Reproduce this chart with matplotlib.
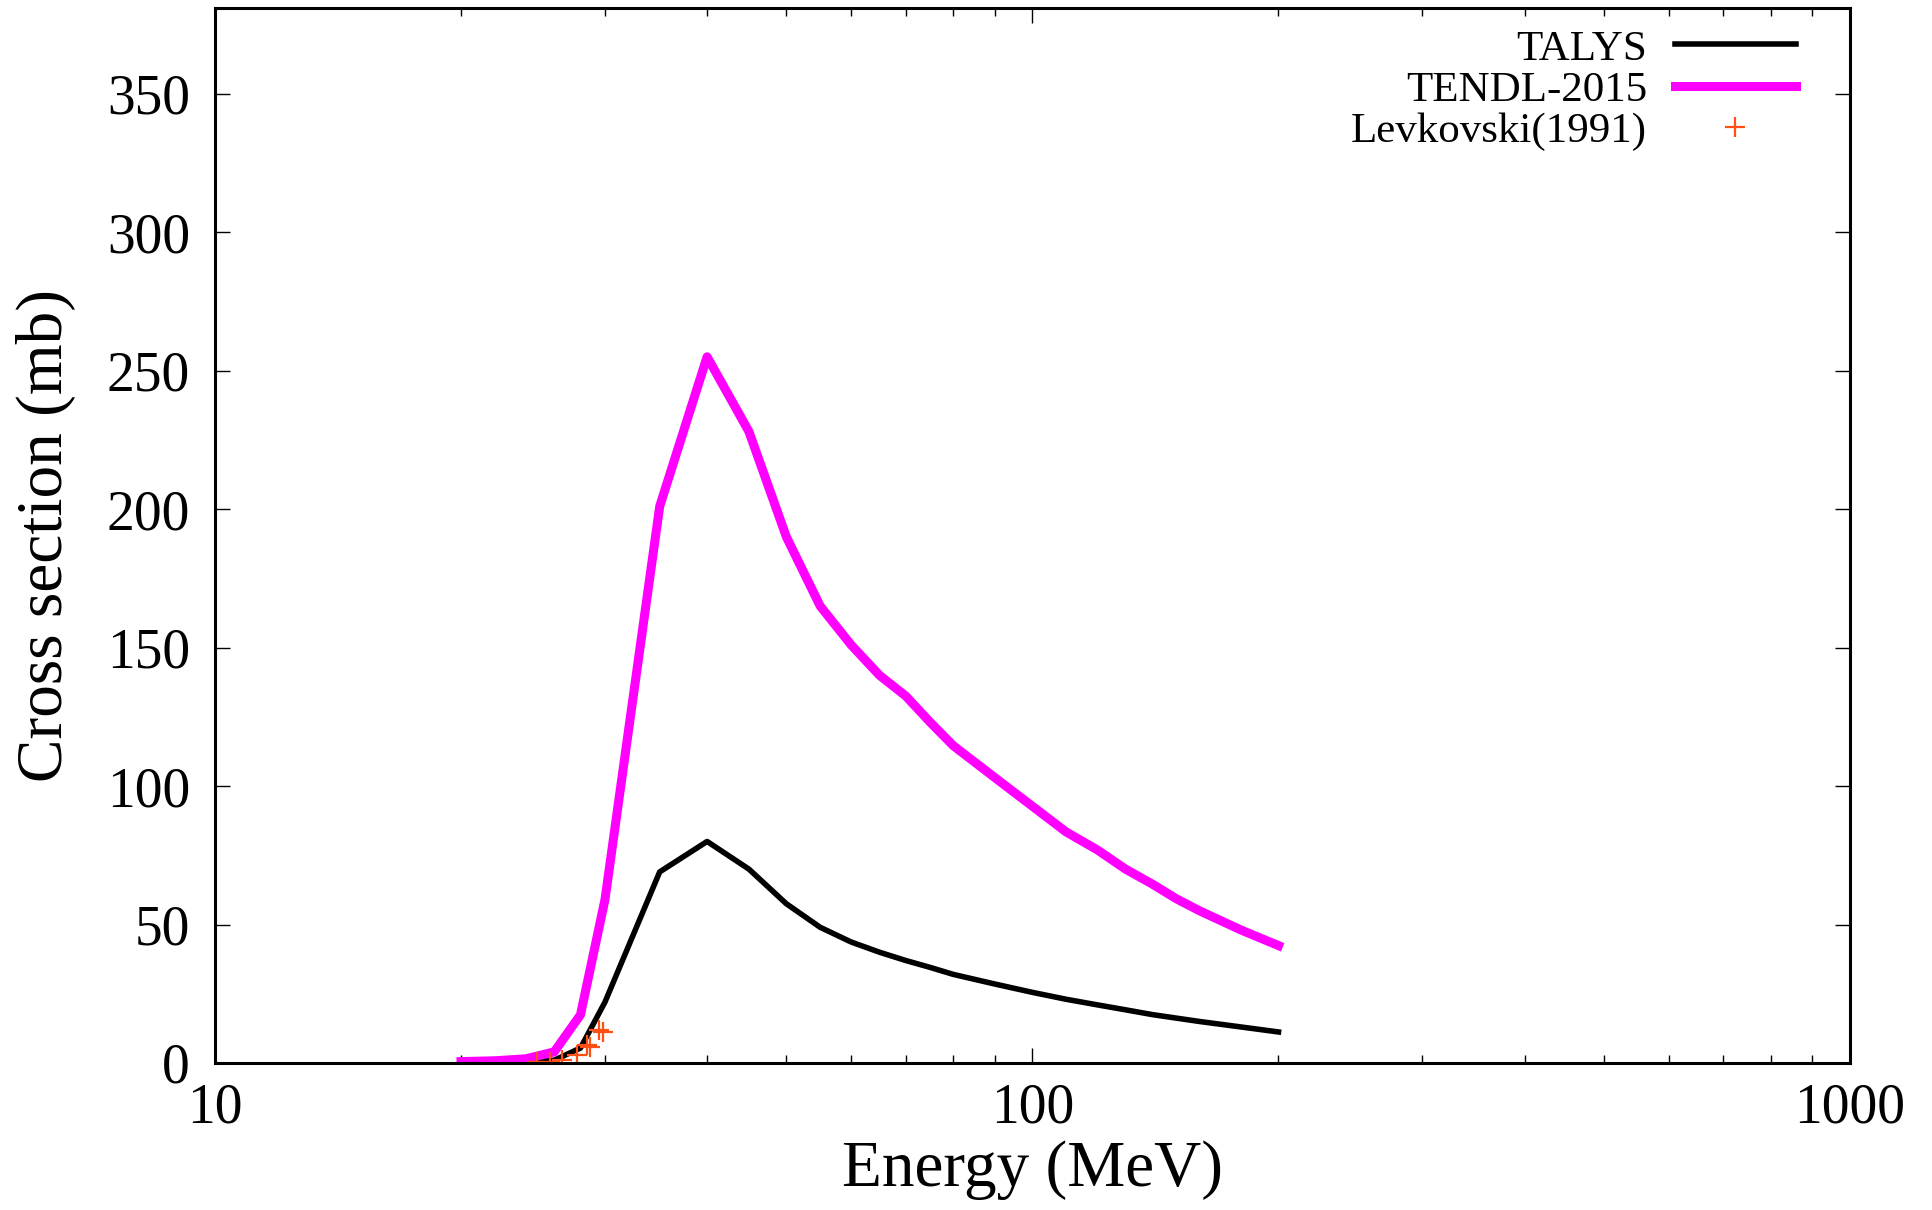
import matplotlib
matplotlib.use("Agg")
import matplotlib.pyplot as plt
from matplotlib.ticker import FixedLocator, FixedFormatter, LogLocator, NullFormatter

plt.rcParams["font.family"] = ["Liberation Serif", "DejaVu Serif"]

# --- data ---
talys_e = [20, 22, 24, 26, 28, 30, 35, 40, 45, 50, 55, 60, 65, 70, 75, 80,
           90, 100, 110, 120, 130, 140, 150, 160, 180, 200]
talys_xs = [0.0, 0.0, 0.2, 1.0, 5.4, 22, 69, 80, 70, 57.5, 49, 43.7, 40,
            37, 34.5, 32, 28.5, 25.5, 23, 21, 19.2, 17.5, 16.2, 15, 13, 11.2]

tendl_e = [20, 22, 24, 26, 28, 30, 35, 40, 45, 50, 55, 60, 65, 70, 75, 80,
           90, 100, 110, 120, 130, 140, 150, 160, 180, 200]
tendl_xs = [0.5, 0.8, 1.5, 4.0, 17.4, 59, 201, 255, 228, 190, 165, 151,
            140, 132.5, 123, 114.6, 103, 92.7, 83.4, 77, 70, 64.7, 59.3,
            55, 48, 42.4]

exp_e = [24.8, 25.7, 26.6, 27.7, 28.5, 28.8, 29.5, 29.8]
exp_xs = [0.2, 0.4, 1.2, 3.0, 6.5, 5.8, 12.0, 11.2]

fig = plt.figure(figsize=(19.33, 12.10), dpi=100)
ax = fig.add_axes([0.1112, 0.1215, 0.8458, 0.872])

ax.plot(talys_e, talys_xs, color="black", lw=4, label="TALYS")
ax.plot(tendl_e, tendl_xs, color="#ff00ff", lw=6.5, label="TENDL-2015")
ax.plot(exp_e, exp_xs, ls="none", marker="+", ms=14, mew=1.6,
        color="#ff4f12", label="Levkovski(1991)")

ax.set_xscale("log")
ax.set_xlim(10, 1000)
ax.set_ylim(0, 381)
ax.xaxis.set_major_locator(FixedLocator([10, 100, 1000]))
ax.xaxis.set_major_formatter(FixedFormatter(["10", "100", "1000"]))
ax.xaxis.set_minor_locator(LogLocator(base=10, subs=range(2, 10)))
ax.xaxis.set_minor_formatter(NullFormatter())
ax.set_yticks(range(0, 351, 50))

for s in ax.spines.values():
    s.set_linewidth(2.2)
ax.tick_params(which="both", direction="in", top=True, right=True,
               labelsize=40, width=1)
ax.tick_params(which="major", length=11)
ax.tick_params(which="minor", length=5.5)
ax.tick_params(axis="y", pad=18)
ax.tick_params(axis="x", pad=14)

ax.set_xlabel("Energy (MeV)", fontsize=47, labelpad=4)
ax.set_ylabel("Cross section (mb)", fontsize=47, labelpad=22)

ax.legend(loc="upper right", fontsize=31, frameon=False, markerfirst=False,
          handlelength=2.8, handletextpad=0.65, labelspacing=0.05,
          borderaxespad=0.1, bbox_to_anchor=(0.98, 1.0))

fig.savefig("out.png", dpi=100)
